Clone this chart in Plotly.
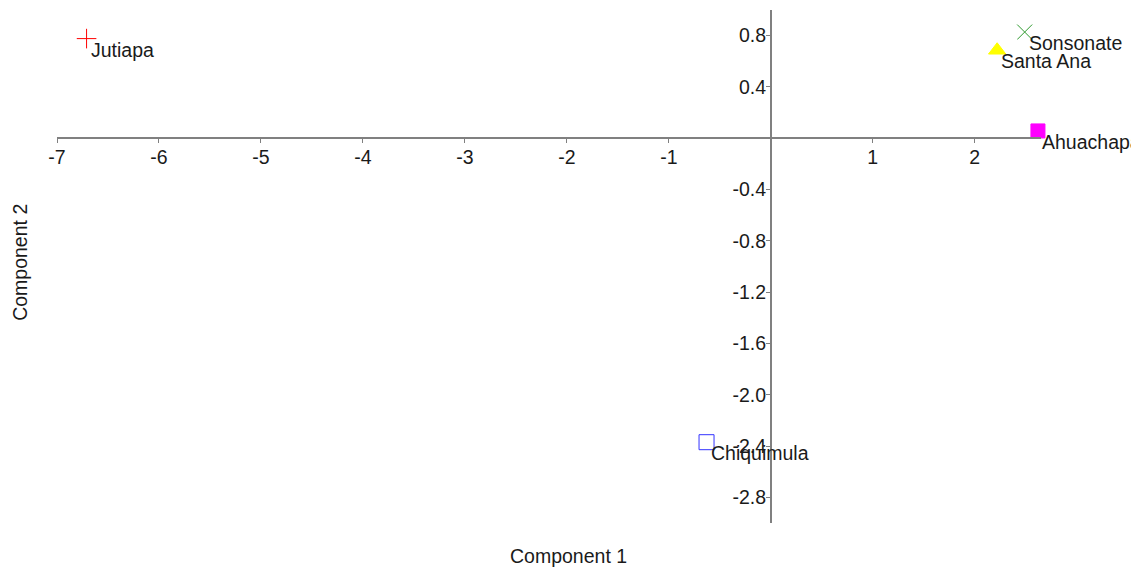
import plotly.graph_objects as go

# ---- data ----
names = ["Jutiapa", "Sonsonate", "Santa Ana", "Ahuachapán", "Chiquimula"]
comp1 = [-6.71, 2.49, 2.22, 2.62, -0.63]
comp2 = [0.777, 0.828, 0.686, 0.057, -2.37]
symbols = ["cross-thin-open", "x-thin-open", "triangle-up", "square", "square-open"]
colors = ["#ff0000", "#2e9a2e", "#ffff00", "#ff00ff", "#3333ff"]
sizes = [14, 15, 15, 14, 15]

x_tickvals = [-7, -6, -5, -4, -3, -2, -1, 1, 2]
x_ticktext = ["-7", "-6", "-5", "-4", "-3", "-2", "-1", "1", "2"]
y_tickvals = [0.8, 0.4, -0.4, -0.8, -1.2, -1.6, -2.0, -2.4, -2.8]
y_ticktext = ["0.8", "0.4", "-0.4", "-0.8", "-1.2", "-1.6", "-2.0", "-2.4", "-2.8"]

x_range = [-7, 2.65]
y_range = [-3, 1]

FONT = "Liberation Sans, Arial, sans-serif"
FS = 19.5
TXT = "#1a1a1a"

fig = go.Figure()
for n, xv, yv, s, c, sz in zip(names, comp1, comp2, symbols, colors, sizes):
    fig.add_trace(go.Scatter(
        x=[xv], y=[yv], mode="markers", name=n, showlegend=False,
        marker=dict(symbol=s, size=sz, color=c, line=dict(color=c, width=1)),
        cliponaxis=False,
    ))
    fig.add_annotation(x=xv, y=yv, text=n, showarrow=False, xanchor="left",
                       yanchor="middle", xshift=2, yshift=-11,
                       font=dict(family=FONT, size=FS, color=TXT))

x0_frac = (0 - x_range[0]) / (x_range[1] - x_range[0])
y0_frac = (0 - y_range[0]) / (y_range[1] - y_range[0])

axis_common = dict(showgrid=False, zeroline=False, showline=True,
                   linecolor="#808080", linewidth=1.5, ticks="outside",
                   ticklen=4, tickcolor="#808080", tickwidth=1,
                   tickfont=dict(family=FONT, size=FS, color=TXT))

fig.update_layout(
    width=1131, height=568,
    margin=dict(l=57, r=90, t=10, b=45),
    plot_bgcolor="white", paper_bgcolor="white",
    xaxis=dict(range=x_range, tickvals=x_tickvals, ticktext=x_ticktext,
               anchor="free", position=y0_frac, ticklabelstandoff=-2,
               **axis_common),
    yaxis=dict(range=y_range, tickvals=y_tickvals, ticktext=y_ticktext,
               anchor="free", position=x0_frac, ticklabelstandoff=-4,
               **axis_common),
)

fig.add_annotation(xref="paper", yref="paper", x=(568 - 57) / 984, y=0,
                   yshift=-33, text="Component 1", showarrow=False,
                   xanchor="center", yanchor="middle",
                   font=dict(family=FONT, size=FS, color=TXT))
fig.add_annotation(xref="paper", yref="paper", x=0, y=(523.3 - 263) / 513.3,
                   xshift=-37, text="Component 2", showarrow=False,
                   textangle=-90, xanchor="center", yanchor="middle",
                   font=dict(family=FONT, size=FS, color=TXT))

fig.write_html("out.html", config={"displayModeBar": False},
               post_script="document.body.style.margin='0';")
